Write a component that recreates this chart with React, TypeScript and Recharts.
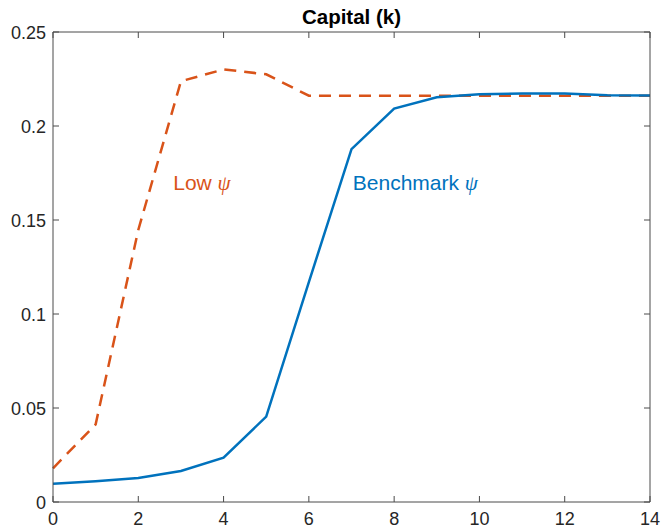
import React from "react";
import { LineChart, Line, XAxis, YAxis, ReferenceDot } from "recharts";

const periods = [0, 1, 2, 3, 4, 5, 6, 7, 8, 9, 10, 11, 12, 13, 14];
const benchmark = [0.0097, 0.011, 0.0128, 0.0165, 0.0236, 0.0454, 0.117, 0.1877, 0.2093, 0.2153, 0.2169, 0.2173, 0.2173, 0.2164, 0.2162];
const lowPsi = [0.0179, 0.0413, 0.1447, 0.2238, 0.2301, 0.2275, 0.2161, 0.2161, 0.2161, 0.2161, 0.2161, 0.2161, 0.2161, 0.2161, 0.2161];
const xTicks = [0, 2, 4, 6, 8, 10, 12, 14];
const yTicks = [0, 0.05, 0.1, 0.15, 0.2, 0.25];
const yTickLabels = ["0", "0.05", "0.1", "0.15", "0.2", "0.25"];
const titleText = "Capital (k)";
const lowLabel = { x: 2.82, y: 0.166, text: "Low ", color: "#D95319" };
const benchLabel = { x: 7.03, y: 0.166, text: "Benchmark ", color: "#0072BD" };

const data = periods.map((p, i) => ({ t: p, bench: benchmark[i], low: lowPsi[i] }));

const FONT = "'Liberation Sans', Arial, Helvetica, sans-serif";
const TEXT = "#262626";
const AXIS = "#4a4a4a";
const TICK = 6;

const BottomTick = (props: any) => {
  const { x, y, payload } = props;
  return (
    <g>
      <line x1={x} x2={x} y1={y} y2={y - TICK} stroke={AXIS} strokeWidth={1} />
      <text x={x} y={y + 23} textAnchor="middle" fontFamily={FONT} fontSize={18} fill={TEXT}>
        {String(payload.value)}
      </text>
    </g>
  );
};

const TopTick = (props: any) => {
  const { x, y } = props;
  return <line x1={x} x2={x} y1={y} y2={y + TICK} stroke={AXIS} strokeWidth={1} />;
};

const LeftTick = (props: any) => {
  const { x, y, payload } = props;
  const idx = yTicks.indexOf(payload.value);
  const label = idx >= 0 ? yTickLabels[idx] : String(payload.value);
  return (
    <g>
      <line x1={x} x2={x + TICK} y1={y} y2={y} stroke={AXIS} strokeWidth={1} />
      <text x={x - 7} y={y + 6.5} textAnchor="end" fontFamily={FONT} fontSize={18} fill={TEXT}>
        {label}
      </text>
    </g>
  );
};

const RightTick = (props: any) => {
  const { x, y } = props;
  return <line x1={x} x2={x - TICK} y1={y} y2={y} stroke={AXIS} strokeWidth={1} />;
};

const makeLabel = (text: string, color: string) => (props: any) => {
  const vb = props.viewBox || {};
  return (
    <text x={vb.x} y={vb.y} fontFamily={FONT} fontSize={21} fill={color}>
      {text}
      <tspan fontFamily="'Liberation Serif', 'Times New Roman', serif" fontStyle="italic" fontSize={21}>
        ψ
      </tspan>
    </text>
  );
};

export default function App() {
  return (
    <div style={{ position: "fixed", left: 0, top: 0, width: 662, height: 529, background: "#fff" }}>
      <LineChart width={662} height={529} data={data} margin={{ top: 31, right: 11, bottom: 0, left: 0 }}>
        <text x={351.5} y={24} textAnchor="middle" fontFamily={FONT} fontSize={20.5} fontWeight="bold" fill="#000">
          {titleText}
        </text>
        <XAxis
          dataKey="t"
          type="number"
          domain={[0, 14]}
          ticks={xTicks}
          interval={0}
          height={27}
          tickSize={0}
          tickMargin={0}
          tickLine={false}
          axisLine={{ stroke: AXIS, strokeWidth: 1 }}
          tick={<BottomTick />}
        />
        <XAxis
          xAxisId="top"
          orientation="top"
          dataKey="t"
          type="number"
          domain={[0, 14]}
          ticks={xTicks}
          interval={0}
          height={1}
          tickSize={0}
          tickMargin={0}
          tickLine={false}
          axisLine={{ stroke: AXIS, strokeWidth: 1 }}
          tick={<TopTick />}
        />
        <YAxis
          type="number"
          domain={[0, 0.25]}
          ticks={yTicks}
          interval={0}
          width={53}
          tickSize={0}
          tickMargin={0}
          tickLine={false}
          axisLine={{ stroke: AXIS, strokeWidth: 1 }}
          tick={<LeftTick />}
        />
        <YAxis
          yAxisId="right"
          orientation="right"
          type="number"
          domain={[0, 0.25]}
          ticks={yTicks}
          interval={0}
          width={1}
          tickSize={0}
          tickMargin={0}
          tickLine={false}
          axisLine={{ stroke: AXIS, strokeWidth: 1 }}
          tick={<RightTick />}
        />
        <Line
          type="linear"
          dataKey="low"
          xAxisId="top"
          yAxisId="right"
          stroke="#D95319"
          strokeWidth={2.5}
          strokeDasharray="12 8"
          dot={false}
          isAnimationActive={false}
        />
        <Line
          type="linear"
          dataKey="bench"
          stroke="#0072BD"
          strokeWidth={2.5}
          dot={false}
          isAnimationActive={false}
        />
        <ReferenceDot x={lowLabel.x} y={lowLabel.y} r={0} stroke="none" fill="none" label={{ content: makeLabel(lowLabel.text, lowLabel.color) }} />
        <ReferenceDot x={benchLabel.x} y={benchLabel.y} r={0} stroke="none" fill="none" label={{ content: makeLabel(benchLabel.text, benchLabel.color) }} />
      </LineChart>
    </div>
  );
}
